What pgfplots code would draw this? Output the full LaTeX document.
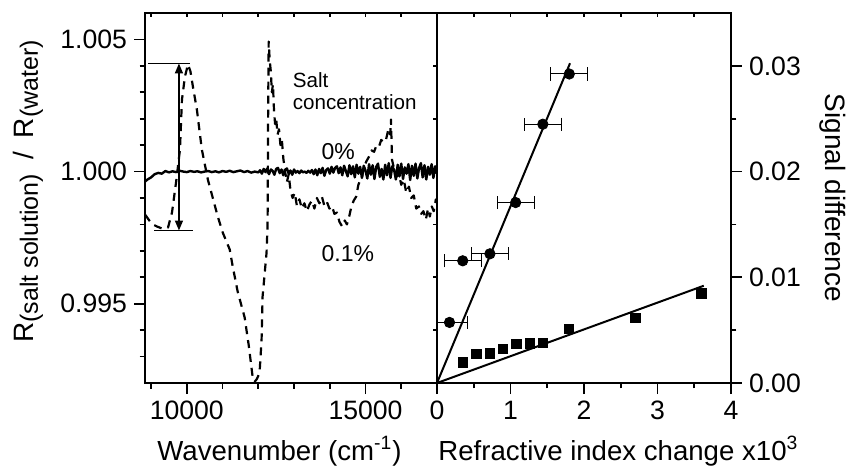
\documentclass[border=0pt]{standalone}
\usepackage{pgfplots}
\pgfplotsset{compat=1.18}
\usepackage{fontspec}
\setmainfont{Liberation Sans}
\usetikzlibrary{arrows.meta}
\begin{document}
\begin{tikzpicture}
\useasboundingbox (0,0) rectangle (424pt,233.5pt);
\pgfplotsset{
  common/.style={
    scale only axis, height=185pt, anchor=south west,
    axis line style={line width=1pt},
    tick style={line width=0.8pt, black},
    tick align=outside,
    major tick length=5.5pt, minor tick length=2.75pt,
    tick label style={font=\fontsize{13.3}{15}\selectfont},
    /pgf/number format/assume math mode=true,
    scaled x ticks=false, scaled y ticks=false,
  },
}
% ---------- left panel ----------
\begin{axis}[common, at={(72.5pt,42pt)}, width=146pt,
  xmin=8830, xmax=17000, ymin=0.992, ymax=1.006,
  xtick={10000,15000}, minor xtick={9000,11000,12000,13000,14000,16000,17000},
  ytick={0.995,1.000,1.005},
  minor ytick={0.993,0.994,0.996,0.997,0.998,0.999,1.001,1.002,1.003,1.004},
  xtick pos=left, ytick pos=left,
  xticklabel style={/pgf/number format/set thousands separator={}},
  yticklabel style={/pgf/number format/.cd, fixed, fixed zerofill, precision=3},
]
\addplot[black, line width=1.2pt, line join=round] coordinates {
(8830,0.99962) (8900,0.99970) (9000,0.99978) (9100,0.99990) (9200,0.99995)
(9300,0.99992) (9400,1.00002) (9500,0.99997) (9600,1.00001) (9700,0.99998)
(9800,1.00003) (9900,1.00000) (10000,0.99998) (10100,1.00002) (10200,0.99999)
(10300,1.00001) (10400,0.99997) (10500,1.00000) (10600,1.00002) (10700,0.99998)
(10800,1.00001) (10900,0.99997) (11000,1.00002) (11100,0.99999) (11200,1.00003)
(11300,0.99998) (11400,1.00001) (11500,1.00004) (11600,0.99998) (11700,1.00002)
(11800,0.99996) (11900,1.00000) (12000,0.99997) (12050,1.00005) (12100,0.99992)
(12150,1.00010) (12200,0.99998) (12250,1.00012) (12300,0.99990) (12350,1.00008)
(12400,1.00003) (12450,0.99988) (12500,1.00010) (12550,1.00014) (12600,0.99994)
(12650,1.00008) (12700,0.99986) (12750,1.00006) (12800,1.00012) (12850,0.99992)
(12900,1.00004) (12950,0.99988) (13000,1.00008) (13050,0.99996) (13100,1.00002)
(13150,0.99994) (13200,1.00004) (13250,0.99997) (13300,1.00000) (13350,0.99995)
(13400,1.00003) (13450,0.99996) (13500,1.00006) (13550,0.99990) (13600,1.00008)
(13650,0.99986) (13700,1.00010) (13750,0.99994) (13800,1.00014) (13850,0.99984)
(13900,1.00006) (13950,1.00012) (14000,0.99992) (14050,1.00018) (14100,0.99996)
(14150,1.00014) (14200,1.00020) (14250,0.99994) (14300,1.00016) (14350,0.99986)
(14400,1.00022) (14450,1.00002) (14500,0.99982) (14550,1.00024) (14600,0.99990)
(14650,1.00020) (14700,0.99978) (14750,1.00026) (14800,0.99992) (14850,1.00018)
(14900,0.99976) (14950,1.00022) (15000,1.00004) (15050,0.99974) (15100,1.00028)
(15150,0.99988) (15200,1.00024) (15250,0.99972) (15300,1.00018) (15350,1.00030)
(15400,0.99980) (15450,1.00010) (15500,0.99970) (15550,1.00026) (15600,0.99986)
(15650,1.00032) (15700,0.99976) (15750,1.00020) (15800,1.00006) (15850,0.99970)
(15900,1.00026) (15950,0.99982) (16000,1.00030) (16050,0.99972) (16100,1.00016)
(16150,0.99992) (16200,1.00028) (16250,0.99968) (16300,1.00022) (16350,0.99984)
(16400,1.00030) (16450,0.99974) (16500,1.00014) (16550,1.00032) (16600,0.99978)
(16650,1.00024) (16700,0.99970) (16750,1.00018) (16800,0.99988) (16850,1.00028)
(16900,0.99976) (16950,1.00020) (17000,0.99992)
};
\addplot[black, line width=1.1pt, dash pattern=on 4pt off 3pt, line join=round] coordinates {
(8833,0.99837) (8950,0.99815) (9050,0.99800) (9167,0.99792) (9300,0.99785)
(9474,0.99788) (9585,0.99845) (9700,0.99960) (9808,1.00083) (9864,1.00272)
(9947,1.00359) (10031,1.00405) (10100,1.00380) (10170,1.00322) (10281,1.00235)
(10421,1.00083) (10588,0.99970) (10866,0.99830) (11006,0.99769) (11201,0.99705)
(11284,0.99641) (11423,0.99546) (11618,0.99448) (11730,0.99345) (11841,0.99224)
(11900,0.99205) (11960,0.99215) (12036,0.99239) (12092,0.99364) (12120,0.99527)
(12231,0.99693) (12260,0.99800) (12275,1.00200) (12290,1.00492) (12320,1.00420)
(12350,1.00380) (12380,1.00300) (12410,1.00330) (12440,1.00230) (12470,1.00180)
(12500,1.00200) (12540,1.00140) (12580,1.00160) (12620,1.00100) (12660,1.00120)
(12700,1.00050) (12750,1.00000) (12800,0.99960) (12850,0.99990) (12900,0.99930)
(12960,0.99900) (13020,0.99920) (13080,0.99870) (13150,0.99895) (13220,0.99860)
(13290,0.99880) (13360,0.99850) (13430,0.99875) (13500,0.99890) (13570,0.99860)
(13640,0.99900) (13710,0.99880) (13780,0.99905) (13850,0.99870) (13920,0.99885)
(13990,0.99860) (14060,0.99870) (14130,0.99840) (14200,0.99845) (14270,0.99810)
(14348,0.99792) (14420,0.99815) (14480,0.99800) (14543,0.99830) (14610,0.99870)
(14670,0.99890) (14738,0.99905) (14800,0.99950) (14860,0.99970) (14905,0.99981)
(14960,1.00020) (15030,1.00040) (15100,1.00057) (15170,1.00080) (15240,1.00075)
(15310,1.00100) (15379,1.00095) (15440,1.00120) (15500,1.00110) (15574,1.00121)
(15640,1.00160) (15690,1.00140) (15713,1.00197) (15741,1.00045) (15800,1.00010)
(15860,0.99980) (15936,0.99989) (16000,0.99950) (16070,0.99970) (16140,0.99920)
(16214,0.99943) (16280,0.99900) (16350,0.99910) (16420,0.99860) (16493,0.99868)
(16560,0.99840) (16620,0.99850) (16688,0.99818) (16750,0.99860) (16800,0.99830)
(16855,0.99868) (16910,0.99850) (16967,0.99894) (17000,0.99880)
};
\draw[line width=0.8pt] (axis cs:8916,1.00409) -- (axis cs:10086,1.00409);
\draw[line width=0.8pt] (axis cs:9084,0.99777) -- (axis cs:10170,0.99777);
\draw[line width=0.8pt, {Triangle[length=5pt,width=4pt]}-{Triangle[length=5pt,width=4pt]}]
  (axis cs:9780,1.00409) -- (axis cs:9780,0.99777);
\node[anchor=base west, inner sep=0pt, font=\fontsize{10.3}{12}\selectfont] at (axis cs:12955,1.00318) {Salt};
\node[anchor=base west, inner sep=0pt, font=\fontsize{10.3}{12}\selectfont] at (axis cs:12955,1.00235) {concentration};
\node[anchor=base west, inner sep=0pt, font=\fontsize{11.5}{13}\selectfont] at (axis cs:13763,1.00045) {0\%};
\node[anchor=base west, inner sep=0pt, font=\fontsize{11.5}{13}\selectfont] at (axis cs:13763,0.99659) {0.1\%};
\end{axis}
% top ticks of left panel
\begin{axis}[common, at={(72.5pt,42pt)}, width=146pt,
  xmin=8830, xmax=17000, ymin=0.992, ymax=1.006,
  xtick={9000,10000,11000,12000,13000,14000,15000,16000,17000},
  ytick=\empty, minor xtick={}, xtick pos=right, tick align=inside,
  major tick length=2pt, xticklabels={}]
\end{axis}
% ---------- right panel ----------
\begin{axis}[common, at={(218.5pt,42pt)}, width=147pt,
  xmin=0, xmax=4, ymin=0, ymax=0.035,
  xtick={0,1,2,3,4}, minor xtick={0.5,1.5,2.5,3.5},
  ytick={0,0.01,0.02,0.03}, minor ytick={0.005,0.015,0.025},
  xtick pos=left, ytick pos=right, yticklabel pos=right,
  yticklabel style={/pgf/number format/.cd, fixed, fixed zerofill, precision=2},
]
\addplot[black, line width=1pt] coordinates {(0,0) (1.81,0.03025)};
\addplot[black, line width=1pt] coordinates {(0,0) (3.63,0.0092)};
\addplot[black, only marks, mark=*, mark size=2.6pt,
  error bars/.cd, x dir=both, x explicit,
  error bar style={line width=0.5pt},
  error mark=|,
  error mark options={line width=0.5pt, mark size=3.3pt, black}]
  coordinates {
  (0.17,0.00573) +- (0.25,0)
  (0.35,0.01156) +- (0.25,0)
  (0.72,0.01222) +- (0.25,0)
  (1.07,0.01707) +- (0.25,0)
  (1.44,0.02448) +- (0.25,0)
  (1.80,0.02923) +- (0.25,0)
};
\addplot[black, only marks, mark=square*, mark size=2.3pt] coordinates {
  (0.354,0.00195) (0.536,0.00274) (0.718,0.00280) (0.899,0.00324) (1.081,0.00368)
  (1.263,0.00374) (1.444,0.00378) (1.798,0.00510) (2.698,0.00614) (3.597,0.00847)
};
\end{axis}
% top ticks of right panel
\begin{axis}[common, at={(218.5pt,42pt)}, width=147pt,
  xmin=0, xmax=4, ymin=0, ymax=0.035,
  xtick={0,0.5,1,1.5,2,2.5,3,3.5,4}, minor xtick={}, ytick=\empty,
  xtick pos=right, tick align=inside, major tick length=2pt, xticklabels={}]
\end{axis}
% left-side ticks of right panel
\begin{axis}[common, at={(218.5pt,42pt)}, width=147pt,
  xmin=0, xmax=4, ymin=0, ymax=0.035,
  ytick={0,0.005,0.01,0.015,0.02,0.025,0.03}, minor ytick={}, xtick=\empty,
  ytick pos=left, tick align=outside, major tick length=2pt, yticklabels={}]
\end{axis}
% labels
\node[rotate=90, anchor=base, font=\fontsize{14}{16}\selectfont] at (16.5pt,137.75pt)
  {R\raisebox{-2.5pt}{\fontsize{12.5}{14}\selectfont(salt solution)}\hspace{7pt}/\hspace{7pt}R\raisebox{-2.5pt}{\fontsize{12.5}{14}\selectfont(water)}};
\node[rotate=-90, anchor=base, font=\fontsize{14}{16}\selectfont] at (412.5pt,134.5pt) {Signal difference};
\node[anchor=base west, inner sep=0pt, font=\fontsize{13.8}{16}\selectfont] at (78.5pt,3.5pt) {Wavenumber (cm\textsuperscript{-1})};
\node[anchor=base west, inner sep=0pt, font=\fontsize{13.8}{16}\selectfont] at (219pt,3.5pt) {Refractive index change x10\textsuperscript{3}};
\end{tikzpicture}
\end{document}
